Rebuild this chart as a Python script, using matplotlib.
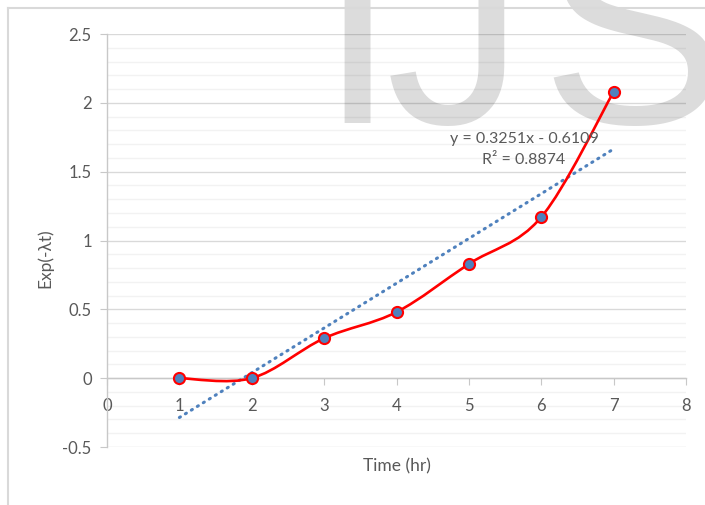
import numpy as np
import matplotlib
matplotlib.use("Agg")
import matplotlib.pyplot as plt
from matplotlib.path import Path
from matplotlib.patches import PathPatch
from matplotlib.lines import Line2D
from matplotlib.ticker import MultipleLocator

plt.rcParams["font.family"] = ["Lato", "DejaVu Sans"]

# measured decay data
time_hr = [1, 2, 3, 4, 5, 6, 7]
exp_lt = [0.0, 0.0, 0.29, 0.48, 0.83, 1.17, 2.08]

# linear trendline as reported
slope = 0.3251
intercept = -0.6109
r_squared = 0.8874

x_ticks = [0, 1, 2, 3, 4, 5, 6, 7, 8]
y_ticks = [-0.5, 0, 0.5, 1, 1.5, 2, 2.5]
y_tick_labels = ["-0.5", "0", "0.5", "1", "1.5", "2", "2.5"]

TEXT = "#595959"
AXIS = "#c8c8c8"
RED = "#ff0000"
BLUE = "#4f81bd"


def smooth_path(xs, ys):
    # cubic bezier through every point, like a spreadsheet "smoothed line"
    pts = np.column_stack([xs, ys]).astype(float)
    n = len(pts)
    verts = [pts[0]]
    codes = [Path.MOVETO]
    for i in range(n - 1):
        p0 = pts[max(i - 1, 0)]
        p1 = pts[i]
        p2 = pts[i + 1]
        p3 = pts[min(i + 2, n - 1)]
        verts += [p1 + (p2 - p0) / 6, p2 - (p3 - p1) / 6, p2]
        codes += [Path.CURVE4] * 3
    return Path(verts, codes)


W, H = 705, 505
fig = plt.figure(figsize=(W / 100, H / 100), dpi=100)

# outer chart frame
fig.add_artist(Line2D([8 / W, 8 / W], [0, 1 - 8 / H], color="#d9d9d9", lw=1.5))
fig.add_artist(Line2D([8 / W, 1], [1 - 8 / H, 1 - 8 / H], color="#d9d9d9", lw=1.5))

# watermark letters behind the plot
for letter, cx in [("I", 357), ("J", 455), ("S", 633)]:
    fig.text(cx / W, 1 - 123 / H, letter, fontsize=200, family="Liberation Sans",
             color="#dcdcdc", ha="center", va="baseline", zorder=-5)

ax = fig.add_axes([107 / W, 1 - 447 / H, (686 - 107) / W, (447 - 34) / H])
ax.patch.set_alpha(0)
ax.set_xlim(0, 8)
ax.set_ylim(-0.5, 2.5)

ax.set_xticks(x_ticks)
ax.set_yticks(y_ticks)
ax.set_yticklabels(y_tick_labels)
ax.yaxis.set_minor_locator(MultipleLocator(0.1))
ax.grid(axis="y", which="major", color="black", alpha=0.15, lw=1.0)
ax.grid(axis="y", which="minor", color="black", alpha=0.05, lw=1.0)
ax.set_axisbelow(True)

for side in ["top", "right"]:
    ax.spines[side].set_visible(False)
ax.spines["left"].set_color(AXIS)
ax.spines["bottom"].set_color(AXIS)
ax.spines["bottom"].set_position(("data", 0))
ax.spines["left"].set_linewidth(1.0)
ax.spines["bottom"].set_linewidth(1.0)

ax.tick_params(axis="x", which="major", direction="out", length=5, color=AXIS,
               labelcolor=TEXT, labelsize=12, pad=9)
ax.tick_params(axis="y", which="major", direction="out", length=5, color=AXIS,
               labelcolor=TEXT, labelsize=12, pad=6)
ax.tick_params(axis="y", which="minor", length=0)

# trendline from the stated equation
x_fit = np.array([min(time_hr), max(time_hr)])
ax.plot(x_fit, slope * x_fit + intercept, color=BLUE, lw=2.2,
        linestyle=(0, (0.4, 1.9)), dash_capstyle="round", zorder=3)

# smoothed data curve with markers
ax.add_patch(PathPatch(smooth_path(time_hr, exp_lt), fill=False, edgecolor=RED,
                       lw=1.9, zorder=4, capstyle="round"))
ax.plot(time_hr, exp_lt, linestyle="none", marker="o", markersize=8,
        markerfacecolor=BLUE, markeredgecolor=RED, markeredgewidth=1.5, zorder=5)

ax.text(5.762, 1.66, f"y = {slope}x - {abs(intercept)}\nR² = {r_squared}",
        ha="center", va="center", multialignment="center", fontsize=11.5,
        color=TEXT, linespacing=1.6, zorder=6)

fig.text(397 / W, 1 - 466 / H, "Time (hr)", ha="center", va="center",
         fontsize=12.5, color=TEXT)
fig.text(45 / W, 1 - 258 / H, "Exp(-λt)", ha="center", va="center",
         rotation=90, fontsize=12.5, color=TEXT)

fig.savefig("out.png", dpi=100)
